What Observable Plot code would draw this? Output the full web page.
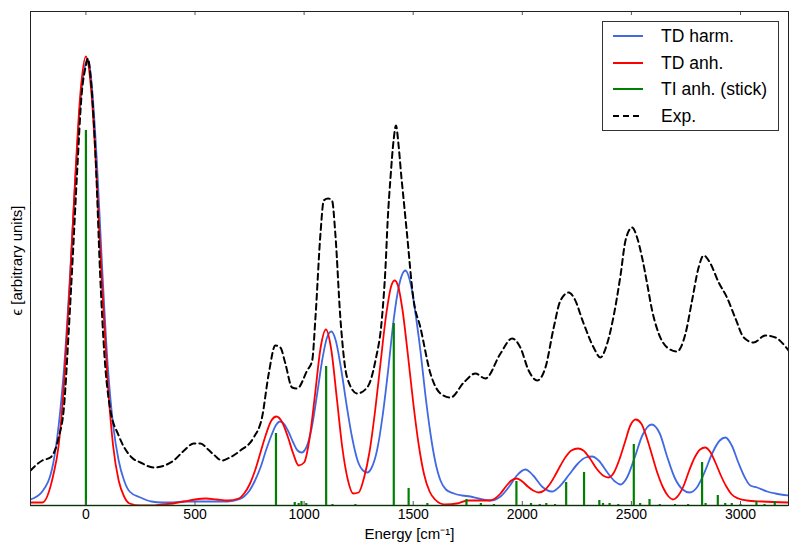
<!DOCTYPE html>
<html><head><meta charset="utf-8">
<script src="https://cdn.jsdelivr.net/npm/d3@7"></script>
<script src="https://cdn.jsdelivr.net/npm/@observablehq/plot@0.6"></script>
<style>
body{margin:0;background:#fff;}
#wrap{position:relative;width:800px;height:553px;font-family:"Liberation Sans",Arial,sans-serif;}
#legend{position:absolute;left:602px;top:21px;width:177px;height:110px;border:1px solid #333;background:#fff;box-sizing:border-box;}
.item{position:absolute;left:0;width:175px;height:24px;}
.item svg{position:absolute;left:10px;top:0;}
.item span{position:absolute;left:58px;top:1px;font-size:17.5px;line-height:22px;color:#000;white-space:nowrap;}
</style>
</head><body>
<div id="wrap"></div>
<script>
// Energy [cm^-1], intensity [arbitrary units]
const tdHarm = [[-254,6],[-200,14],[-150,42],[-125,80],[-100,138],[-75,222],[-50,320],[-25,405],[0,443],[10,446],[25,425],[50,345],[75,235],[100,140],[125,80],[150,45],[175,25],[200,14],[250,8],[300,4],[350,3],[400,3],[450,4],[500,4],[550,4],[600,4],[650,4],[700,6],[725,9],[750,15],[775,25],[800,38],[825,55],[850,70],[870,80],[890,84],[910,81],[930,73],[950,63],[970,55],[988,53],[1010,58],[1035,78],[1060,112],[1085,148],[1105,168],[1125,174],[1145,165],[1170,136],[1195,100],[1220,68],[1245,45],[1270,35],[1289,33],[1310,38],[1335,56],[1360,90],[1385,135],[1410,185],[1435,220],[1464,235],[1490,220],[1515,185],[1533,155],[1555,112],[1579,72],[1600,45],[1625,25],[1650,16],[1686,12],[1725,10],[1762,9],[1800,7],[1854,5],[1900,9],[1940,19],[1975,30],[2014,36],[2050,30],[2090,19],[2136,14],[2175,20],[2215,31],[2255,42],[2290,48],[2320,49],[2350,45],[2390,33],[2425,24],[2450,21],[2480,28],[2515,48],[2550,70],[2592,81],[2630,72],[2665,48],[2700,27],[2735,16],[2767,13],[2800,18],[2835,33],[2870,52],[2905,65],[2931,68],[2960,60],[2990,43],[3020,28],[3045,20],[3076,18],[3122,14],[3160,12],[3220,10]];

const tdAnh = [[-254,3],[-200,3],[-150,30],[-125,60],[-100,123],[-75,216],[-50,324],[-25,413],[0,449],[25,413],[50,324],[75,216],[100,123],[125,59],[150,25],[175,9],[200,2],[250,0],[300,0],[350,1],[400,2],[450,4],[500,6],[550,7],[600,6],[650,5],[700,7],[725,12],[750,21],[775,35],[800,53],[825,71],[850,85],[873,89],[900,83],[925,69],[950,52],[975,40],[1000,43],[1025,67],[1050,111],[1075,157],[1100,176],[1125,155],[1150,107],[1175,58],[1200,26],[1225,12],[1250,13],[1275,28],[1300,54],[1325,94],[1350,142],[1375,189],[1400,220],[1415,225],[1430,220],[1450,197],[1475,152],[1500,103],[1525,61],[1550,31],[1575,14],[1600,6],[1625,2],[1650,1],[1700,2],[1750,5],[1800,5],[1850,5],[1875,7],[1900,12],[1925,19],[1950,25],[1975,27],[2000,24],[2025,19],[2050,15],[2075,13],[2100,15],[2125,21],[2150,30],[2175,40],[2200,49],[2225,55],[2255,57],[2280,55],[2310,47],[2340,37],[2370,30],[2395,28],[2420,33],[2445,46],[2470,63],[2495,80],[2520,86],[2545,82],[2570,68],[2595,50],[2620,32],[2645,18],[2670,9],[2690,6],[2715,10],[2740,20],[2765,35],[2790,48],[2815,56],[2838,58],[2860,54],[2885,43],[2910,30],[2935,19],[2960,11],[2990,7],[3030,5],[3100,4],[3220,3]];

const tiAnhSticks = [[0,375],[871,72],[957,3],[975,2],[988,4],[1010,2],[1101,139],[1130,1],[1235,1],[1411,182],[1479,17],[1565,2],[1744,6],[1810,2],[1870,1],[1973,24],[2040,2],[2080,1],[2110,2],[2150,1],[2201,23],[2283,33],[2353,5],[2370,2],[2400,2],[2440,1],[2511,61],[2540,2],[2583,6],[2630,1],[2700,1],[2760,1],[2824,43],[2840,2],[2896,10],[2930,2],[2960,2],[3000,1],[3073,4],[3110,1],[3157,4]];

const expSpec = [[-254,35],[-200,45],[-163,48],[-125,68],[-100,100],[-80,170],[-60,250],[-40,335],[-20,410],[0,440],[8,447],[25,420],[45,345],[65,232],[85,150],[110,98],[150,70],[210,48],[250,43],[311,38],[360,40],[402,45],[450,55],[494,62],[525,62],[560,56],[590,50],[624,45],[660,48],[708,55],[769,68],[807,88],[838,132],[868,160],[891,158],[914,142],[945,118],[968,117],[1014,135],[1037,145],[1052,188],[1075,272],[1090,305],[1110,307],[1128,305],[1143,272],[1166,188],[1197,128],[1243,112],[1289,118],[1327,145],[1357,188],[1373,238],[1383,285],[1396,328],[1410,365],[1421,380],[1433,360],[1446,328],[1452,315],[1470,275],[1502,205],[1533,178],[1579,132],[1625,112],[1671,108],[1732,123],[1785,132],[1831,127],[1900,152],[1953,167],[1991,158],[2029,135],[2068,125],[2106,138],[2144,178],[2175,205],[2213,213],[2236,208],[2281,182],[2327,158],[2358,148],[2389,162],[2419,190],[2450,230],[2473,265],[2503,278],[2526,268],[2549,248],[2572,222],[2595,195],[2625,172],[2664,158],[2709,154],[2748,172],[2778,205],[2808,238],[2831,250],[2862,242],[2900,223],[2938,208],[2977,187],[3015,168],[3060,163],[3114,170],[3160,168],[3220,155]];

const xTicks = [0, 500, 1000, 1500, 2000, 2500, 3000];
const legendItems = [
  {label:"TD harm.", color:"#4169e1", dash:null},
  {label:"TD anh.", color:"#ff0000", dash:null},
  {label:"TI anh. (stick)", color:"#008000", dash:null},
  {label:"Exp.", color:"#000000", dash:"6,4"}
];
const xLabel = "Energy [cm\u207B\u00B9]";
const yLabel = "\u03F5 [arbitrary units]";

const X = d => d[0], Y = d => d[1];
const chart = Plot.plot({
  width: 800, height: 553,
  marginLeft: 30, marginRight: 12, marginTop: 11, marginBottom: 48,
  x: {domain: [-254, 3220], label: null},
  y: {domain: [0, 494], axis: null},
  style: {fontFamily: "'Liberation Sans', Arial, sans-serif", fontSize: "14px", color: "#000", background: "#fff"},
  marks: [
    Plot.line(tdHarm, {x: X, y: Y, stroke: "#4169e1", strokeWidth: 1.8, curve: "monotone-x", clip: true}),
    Plot.line(tdAnh, {x: X, y: Y, stroke: "#ff0000", strokeWidth: 1.8, curve: "monotone-x", clip: true}),
    Plot.ruleX(tiAnhSticks, {x: X, y1: 0, y2: Y, stroke: "#008000", strokeWidth: 2.2}),
    Plot.ruleY([0], {stroke: "#008000", strokeWidth: 1.5}),
    Plot.line(expSpec, {x: X, y: Y, stroke: "#000", strokeWidth: 2, strokeDasharray: "6,4", curve: "monotone-x", clip: true}),
    Plot.ruleX(xTicks, {y1: 0, y2: 4, stroke: "#555"}),
    Plot.ruleX(xTicks, {y1: 490, y2: 494, stroke: "#555"}),
    Plot.frame({stroke: "#222"}),
    Plot.axisX(xTicks, {tickSize: 0, tickPadding: 4, fontSize: 14, label: null, tickFormat: d => String(d)}),
    Plot.text([xLabel], {frameAnchor: "bottom", dy: 33, fontSize: 15, fill: "#000"}),
    Plot.text([yLabel], {frameAnchor: "left", textAnchor: "middle", rotate: -90, dx: -13, dy: 2, fontSize: 15, fill: "#000"})
  ]
});
const wrap = document.getElementById("wrap");
wrap.appendChild(chart);

const leg = document.createElement("div");
leg.id = "legend";
const rowTops = [2, 29, 55, 82];
legendItems.forEach((it, i) => {
  const row = document.createElement("div");
  row.className = "item";
  row.style.top = rowTops[i] + "px";
  row.innerHTML = `<svg width="32" height="24"><line x1="0" x2="30" y1="12" y2="12" stroke="${it.color}" stroke-width="2" ${it.dash ? `stroke-dasharray="${it.dash}"` : ""}/></svg><span>${it.label}</span>`;
  leg.appendChild(row);
});
wrap.appendChild(leg);
</script>
</body></html>
